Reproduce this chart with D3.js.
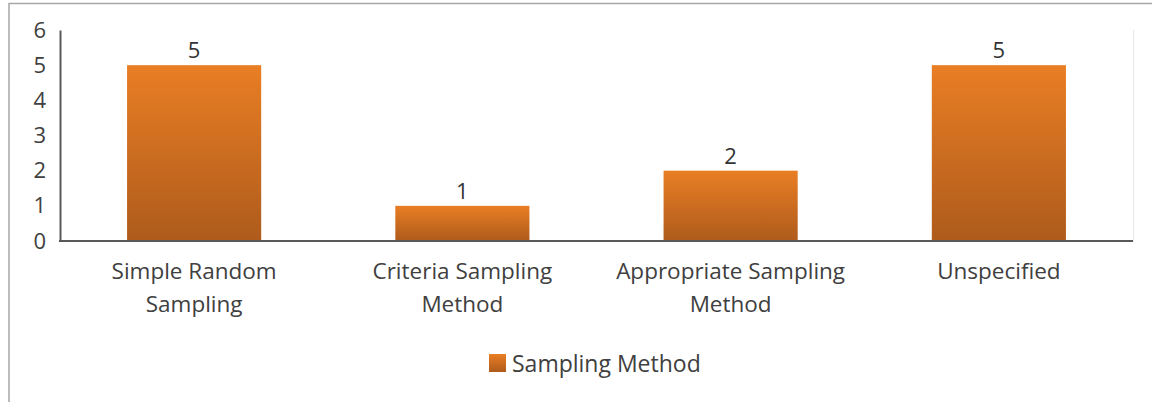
<!DOCTYPE html>
<html><head><meta charset="utf-8">
<script src="https://cdn.jsdelivr.net/npm/d3@7"></script>
<style>body{margin:0;background:#fff}svg{display:block}text{font-family:"Open Sans",sans-serif}</style>
</head><body><svg id="c" width="1152" height="402"></svg>
<script>
const categories = [["Simple Random","Sampling"],["Criteria Sampling","Method"],["Appropriate Sampling","Method"],["Unspecified"]];
const values = [5, 1, 2, 5];
const yTicks = [0,1,2,3,4,5,6];
const seriesName = "Sampling Method";

(function(){
const svg = d3.select("#c");
const defs = svg.append("defs");
const g = defs.append("linearGradient").attr("id","grad").attr("x1",0).attr("y1",0).attr("x2",0).attr("y2",1);
g.append("stop").attr("offset","0%").attr("stop-color","#e97e24");
g.append("stop").attr("offset","100%").attr("stop-color","#ae5b1c");

svg.append("rect").attr("x",9).attr("y",3.5).attr("width",1160).attr("height",420).attr("fill","none").attr("stroke","#a6a6a6").attr("stroke-width",1.5);

const pL=60, pR=1133, pT=30, pB=241;
const x = d3.scaleBand().domain(d3.range(categories.length)).range([pL,pR]).paddingInner(0.5).paddingOuter(0.25);
const y = d3.scaleLinear().domain([0,6]).range([pB,pT]);

svg.append("line").attr("x1",pR+0.5).attr("x2",pR+0.5).attr("y1",pT).attr("y2",pB).attr("stroke","#e6e6e6");

svg.selectAll("rect.bar").data(values).join("rect").attr("class","bar")
  .attr("x",(d,i)=>x(i)).attr("width",x.bandwidth())
  .attr("y",d=>y(d)).attr("height",d=>y(0)-y(d)).attr("fill","url(#grad)");

const ya = d3.axisLeft(y).tickValues(yTicks).tickSize(0).tickPadding(14).tickFormat(d3.format("d"));
const yg = svg.append("g").attr("transform",`translate(${pL},0)`).call(ya);
yg.select(".domain").attr("stroke","#595959").attr("stroke-width",2);
yg.selectAll("text").attr("font-size",22).attr("fill","#404040").attr("font-family","Open Sans");

svg.append("line").attr("x1",pL-1).attr("x2",pR).attr("y1",pB).attr("y2",pB).attr("stroke","#595959").attr("stroke-width",2);

svg.selectAll("text.lbl").data(values).join("text").attr("class","lbl")
  .attr("x",(d,i)=>x(i)+x.bandwidth()/2).attr("y",d=>y(d)-7)
  .attr("text-anchor","middle").attr("font-size",22).attr("fill","#333").text(d=>d);

const cat = svg.selectAll("text.cat").data(categories).join("text").attr("class","cat")
  .attr("x",(d,i)=>x(i)+x.bandwidth()/2).attr("y",279)
  .attr("text-anchor","middle").attr("font-size",22.5).attr("fill","#404040");
cat.each(function(d){
  const t=d3.select(this);
  d.forEach((line,k)=>t.append("tspan").attr("x",t.attr("x")).attr("dy",k?33:0).text(line));
});

const lg = svg.append("g");
lg.append("rect").attr("x",489).attr("y",354).attr("width",17).attr("height",18).attr("fill","url(#grad)");
lg.append("text").attr("x",512).attr("y",372).attr("font-size",23).attr("fill","#404040").text(seriesName);
})();
</script></body></html>
